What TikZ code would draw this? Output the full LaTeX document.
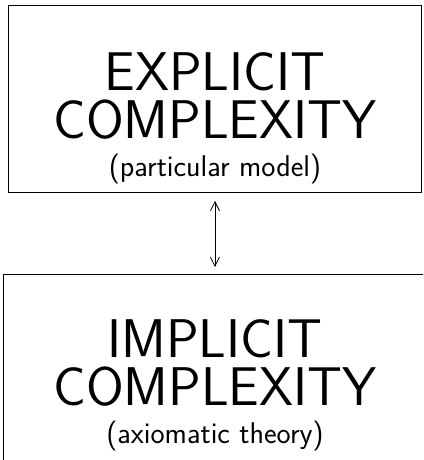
\documentclass[tikz,border=0pt]{standalone}
\usepackage{fontspec}
\usetikzlibrary{arrows.meta}
\newcommand{\smalltxt}{\fontsize{30}{38}\selectfont}
\begin{document}
\begin{tikzpicture}[x=1pt,y=-1pt,
  box/.style={draw, line width=0.9pt, rectangle, inner sep=0pt, anchor=north west},
  label/.style={font=\sffamily\fontsize{54.5}{48}\selectfont, align=center, anchor=north, inner sep=0pt},
  link/.style={line width=0.8pt, {Straight Barb[length=9pt,width=9pt]}-{Straight Barb[length=9pt,width=9pt]}}]
\useasboundingbox (0,0) rectangle (423,460);
\clip (0,0) rectangle (423,460);
\node[box, minimum width=413pt, minimum height=187pt] (topbox) at (8,5) {};
\node[box, minimum width=430pt, minimum height=195pt] (botbox) at (3,274) {};
\node[label] (t1) at (215,52) {EXPLICIT\\COMPLEXITY\\[-10pt]{\smalltxt (particular model)}};
\node[label] (t2) at (215,319) {IMPLICIT\\COMPLEXITY\\[-10pt]{\smalltxt (axiomatic theory)}};
\draw[link] ([yshift=-8pt]topbox.south) -- ([yshift=7pt]botbox.north -| topbox.south);
\end{tikzpicture}
\end{document}
